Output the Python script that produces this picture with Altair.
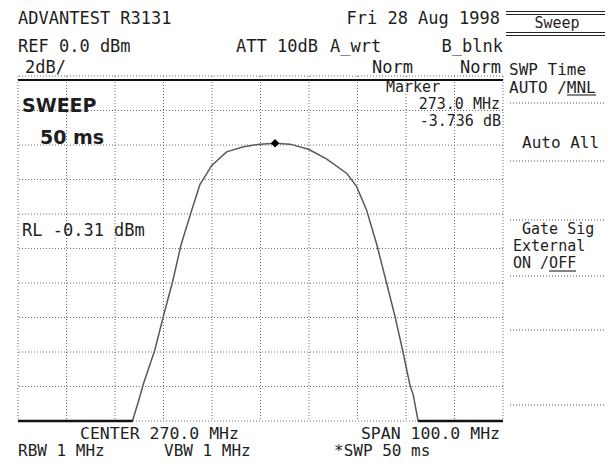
import altair as alt
import pandas as pd

# ---- data ----
freq_mhz = [220.0, 243.6, 244.9, 245.8, 248.2, 250.0, 251.9, 253.6, 255.8, 257.5, 258.6,
            259.9, 263.0, 266.5, 269.9, 273.0, 276.1, 279.9, 283.6, 287.8, 289.8,
            291.9, 294.0, 295.9, 297.7, 299.3, 300.8, 301.5, 302.5, 320.0]
level_dbm = [-20.0, -20.0, -18.8, -17.9, -15.9, -13.9, -11.9, -9.8, -7.8, -6.3, -5.8,
             -5.2, -4.4, -4.1, -3.95, -3.9, -3.95, -4.25, -4.8, -5.65, -6.4,
             -7.8, -9.8, -11.9, -13.9, -15.9, -17.9, -18.5, -20.0, -20.0]
marker_freq = [273.0]
marker_level = [-3.9]
freq_grid = [220, 230, 240, 250, 260, 270, 280, 290, 300, 310, 320]
level_grid = [-20, -18, -16, -14, -12, -10, -8, -6, -4, -2, 0]

header_texts = ["ADVANTEST R3131", "Fri 28 Aug 1998", "REF 0.0 dBm", "ATT 10dB",
                "A_wrt", "B_blnk", "2dB/", "Norm", "Norm"]
marker_texts = ["Marker", "273.0 MHz", "-3.736 dB"]
status_texts = ["SWEEP", "50  ms", "RL -0.31 dBm"]
footer_texts = ["CENTER 270.0 MHz", "SPAN 100.0 MHz", "RBW 1 MHz", "VBW 1 MHz", "*SWP 50 ms"]
menu_texts = ["Sweep", "SWP Time", "AUTO /MNL", "Auto All", "Gate Sig", "External", "ON /OFF"]

MONO = "DejaVu Sans Mono"
INK = "#1e1e1e"
OX, OY = 18, 76  # plot origin on page (used only to place annotations)

trace = pd.DataFrame({"f": freq_mhz, "l": level_dbm})
mk = pd.DataFrame({"f": marker_freq, "l": marker_level})
vg = pd.DataFrame({"f": freq_grid})
hg = pd.DataFrame({"l": level_grid})
one = alt.Data(values=[{"k": 1}])

xs = alt.Scale(domain=[220, 320], nice=False, zero=False)
ys = alt.Scale(domain=[-20, 0], nice=False, zero=False)

vgrid = alt.Chart(vg).mark_rule(color="#6a6a6a", strokeWidth=1, strokeDash=[1, 2]).encode(
    x=alt.X("f:Q", scale=xs, axis=None))
hgrid = alt.Chart(hg).mark_rule(color="#6a6a6a", strokeWidth=1, strokeDash=[1, 2]).encode(
    y=alt.Y("l:Q", scale=ys, axis=None))

line = alt.Chart(trace).mark_line(color="#5a5a5a", strokeWidth=1.5).encode(
    x=alt.X("f:Q", scale=xs, axis=None),
    y=alt.Y("l:Q", scale=ys, axis=None),
)
marker = alt.Chart(mk).mark_point(shape="diamond", filled=True, color="#000", size=70, opacity=1).encode(
    x=alt.X("f:Q", scale=xs), y=alt.Y("l:Q", scale=ys))


def txt(s, px, cy, size=17, align="left", weight="normal", font=MONO):
    base = cy + 0.365 * size  # centre of capitals -> alphabetic baseline
    return alt.Chart(one).mark_text(text=s, align=align, baseline="alphabetic", fontSize=size,
                                    font=font, fontWeight=weight, color=INK).encode(
        x=alt.value(px - OX), y=alt.value(base - OY))


def hrule(x0, x1, py, dash=None, width=1, color="#555"):
    kw = dict(color=color, strokeWidth=width)
    if dash:
        kw["strokeDash"] = dash
    return alt.Chart(one).mark_rule(**kw).encode(
        x=alt.value(x0 - OX), x2=alt.value(x1 - OX), y=alt.value(py - OY))


layers = [vgrid, hgrid, line, marker]
# thick header line across the screen
layers.append(hrule(18, 503, 80, width=2, color="#111"))
# floor segments drawn thick
layers.append(alt.Chart(trace).transform_filter("datum.f <= 243.6").mark_line(color="#111", strokeWidth=2.5).encode(
    x=alt.X("f:Q", scale=xs), y=alt.Y("l:Q", scale=ys)))
layers.append(alt.Chart(trace).transform_filter("datum.f >= 302.5").mark_line(color="#111", strokeWidth=2.5).encode(
    x=alt.X("f:Q", scale=xs), y=alt.Y("l:Q", scale=ys)))

# header
layers += [
    txt(header_texts[0], 18, 17.5),
    txt(header_texts[1], 500, 17.5, align="right"),
    txt(header_texts[2], 18, 46),
    txt(header_texts[3], 236, 46),
    txt(header_texts[4], 330, 46),
    txt(header_texts[5], 503, 46, align="right"),
    txt(header_texts[6], 25, 67),
    txt(header_texts[7], 372, 67),
    txt(header_texts[8], 501, 67, align="right"),
]
# marker box
layers += [
    txt(marker_texts[0], 386, 87, size=15),
    txt(marker_texts[1], 500, 104, size=15, align="right"),
    txt(marker_texts[2], 501, 121, size=15, align="right"),
]
# status
layers += [
    txt(status_texts[0], 22, 105, size=19, weight="bold", font="DejaVu Sans"),
    txt(status_texts[1], 40, 137, size=19, weight="bold", font="DejaVu Sans"),
    txt(status_texts[2], 22, 230),
]
# footer
layers += [
    txt(footer_texts[0], 80, 432.5, size=16.5),
    txt(footer_texts[1], 500, 432.5, size=16.5, align="right"),
    txt(footer_texts[2], 18, 450.5, size=16),
    txt(footer_texts[3], 164, 450.5, size=16),
    txt(footer_texts[4], 334, 450.5, size=16),
]
# soft-key menu
layers += [
    hrule(506, 613, 11.5, width=1.2, color="#222"),
    hrule(506, 613, 14.5, width=1.2, color="#222"),
    txt(menu_texts[0], 557, 22.5, size=15, align="center"),
    hrule(506, 613, 32.5, width=1.2, color="#222"),
    hrule(506, 613, 35.5, width=1.2, color="#222"),
    txt(menu_texts[1], 509, 69, size=16),
    txt(menu_texts[2], 509, 87, size=16),
    hrule(567, 596, 95, width=1.2, color="#333"),
    hrule(510, 613, 103, dash=[1, 2]),
    txt(menu_texts[3], 522, 142, size=16),
    hrule(510, 613, 161, dash=[1, 2]),
    hrule(510, 613, 220, dash=[1, 2]),
    txt(menu_texts[4], 522, 229, size=15),
    txt(menu_texts[5], 513, 246, size=15),
    txt(menu_texts[6], 513, 263, size=15),
    hrule(549, 576, 271, width=1.2, color="#333"),
    hrule(510, 613, 276, dash=[1, 2]),
    hrule(510, 613, 330, dash=[1, 2]),
    hrule(510, 613, 405, dash=[1, 2]),
]

chart = alt.layer(*layers).properties(
    width=485, height=345,
    padding={"left": 10, "top": 68, "right": 102, "bottom": 39},
    autosize=alt.AutoSizeParams(type="none"),
    background="white",
).configure_view(stroke=None)

chart.save("out.html", embed_options={"renderer": "svg", "actions": False})
